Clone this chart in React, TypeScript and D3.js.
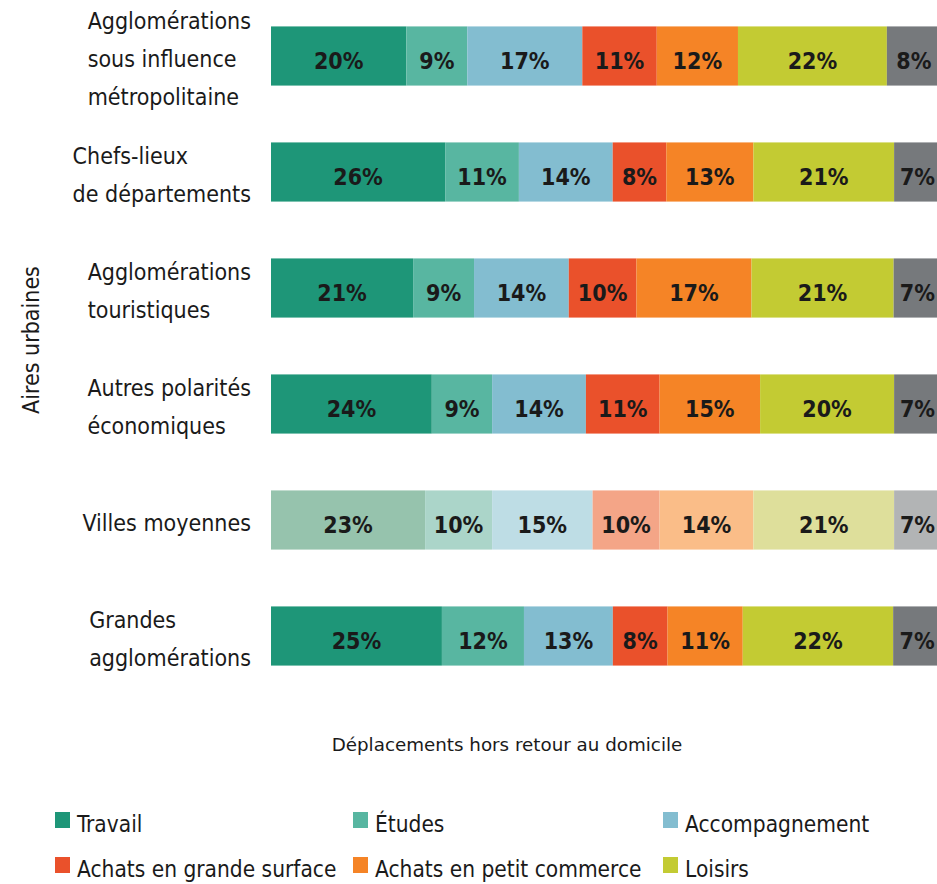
import React, { useEffect, useRef } from "react";
import * as d3 from "d3";

const W = 937;
const H = 884;

const categories = [
  "Agglomérations sous influence métropolitaine",
  "Chefs-lieux de départements",
  "Agglomérations touristiques",
  "Autres polarités économiques",
  "Villes moyennes",
  "Grandes agglomérations",
];
const categoryLines = [
  ["Agglomérations", "sous influence", "métropolitaine"],
  ["Chefs-lieux", "de départements"],
  ["Agglomérations", "touristiques"],
  ["Autres polarités", "économiques"],
  ["Villes moyennes"],
  ["Grandes", "agglomérations"],
];
const highlighted = "Villes moyennes";

const seriesNames = [
  "Travail",
  "Études",
  "Accompagnement",
  "Achats en grande surface",
  "Achats en petit commerce",
  "Loisirs",
  "Autres",
];
const travail = [20, 26, 21, 24, 23, 25];
const etudes = [9, 11, 9, 9, 10, 12];
const accompagnement = [17, 14, 14, 14, 15, 13];
const grandeSurface = [11, 8, 10, 11, 10, 8];
const petitCommerce = [12, 13, 17, 15, 14, 11];
const loisirs = [22, 21, 21, 20, 21, 22];
const autres = [8, 7, 7, 7, 7, 7];
const seriesValues = [travail, etudes, accompagnement, grandeSurface, petitCommerce, loisirs, autres];

// legend entries visible in the picture (the 7th one falls below the frame)
const legendNames = seriesNames.slice(0, 6);

const colors = ["#1e9678", "#58b6a1", "#83bdd0", "#ea512b", "#f58426", "#c3cb33", "#76797c"];
const lightColors = ["#96c3ad", "#abd5c9", "#bedde5", "#f4a587", "#fabd88", "#dedf9b", "#b2b4b5"];

const xTitle = "Déplacements hors retour au domicile";
const yTitle = "Aires urbaines";

const FONT = "'DejaVu Sans Condensed', 'DejaVu Sans', sans-serif";

export default function App() {
  const ref = useRef<SVGSVGElement>(null);

  useEffect(() => {
    const svg = d3.select(ref.current);
    svg.selectAll("*").remove();

    const rows = categories.map((c, i) => {
      const r: any = { category: c };
      seriesNames.forEach((s, j) => (r[s] = seriesValues[j][i]));
      return r;
    });
    const stacked = d3.stack().keys(seriesNames).offset(d3.stackOffsetExpand)(rows);

    const x = d3.scaleLinear().domain([0, 1]).range([271, 941]);
    const y = d3
      .scaleBand()
      .domain(categories)
      .range([-2, 694])
      .paddingInner(0.49)
      .paddingOuter(0.245);

    const g = svg.append("g");
    stacked.forEach((layer, j) => {
      const key = seriesNames[j];
      const lg = g.append("g");
      lg.selectAll("rect")
        .data(layer)
        .join("rect")
        .attr("x", (d) => x(d[0]))
        .attr("y", (d: any) => y(d.data.category)!)
        .attr("width", (d) => x(d[1]) - x(d[0]))
        .attr("height", y.bandwidth())
        .attr("fill", (d: any) => (d.data.category === highlighted ? lightColors[j] : colors[j]));
      lg.selectAll("text")
        .data(layer)
        .join("text")
        .attr("x", (d) => (x(d[0]) + x(d[1])) / 2)
        .attr("y", (d: any) => y(d.data.category)! + y.bandwidth() / 2 + 13)
        .attr("text-anchor", "middle")
        .attr("font-family", FONT)
        .attr("font-weight", "bold")
        .attr("font-size", 23)
        .attr("fill", "#1a1a1a")
        .text((d: any) => `${d.data[key]}%`);
    });

    // category labels
    categories.forEach((c, i) => {
      const lines = categoryLines[i];
      const cy = y(c)! + y.bandwidth() / 2;
      const t = svg
        .append("text")
        .attr("font-family", FONT)
        .attr("font-size", 23)
        .attr("fill", "#1a1a1a");
      const spans = lines.map((ln, k) =>
        t
          .append("tspan")
          .attr("y", cy + 11 + (k - (lines.length - 1) / 2) * 38)
          .attr("x", 0)
          .text(ln)
      );
      const maxW = d3.max(spans, (s) => (s.node() as SVGTSpanElement).getComputedTextLength()) || 0;
      spans.forEach((s) => s.attr("x", 251 - maxW));
    });

    // x title
    svg
      .append("text")
      .attr("x", 507)
      .attr("y", 751)
      .attr("text-anchor", "middle")
      .attr("font-family", "'DejaVu Sans', sans-serif")
      .attr("font-size", 18.3)
      .attr("fill", "#1a1a1a")
      .text(xTitle);

    // y title
    svg
      .append("text")
      .attr("transform", "translate(39,340) rotate(-90)")
      .attr("text-anchor", "middle")
      .attr("font-family", FONT)
      .attr("font-size", 23)
      .attr("fill", "#1a1a1a")
      .text(yTitle);

    // legend
    const colX = [55, 353, 663];
    const rowY = [832, 877];
    const leg = svg
      .append("g")
      .selectAll("g")
      .data(legendNames)
      .join("g")
      .attr("transform", (_, i) => `translate(${colX[i % 3]},${rowY[0] + Math.floor(i / 3) * (rowY[1] - rowY[0])})`);
    leg
      .append("rect")
      .attr("x", 0)
      .attr("y", -20)
      .attr("width", 15)
      .attr("height", 16)
      .attr("fill", (_, i) => colors[i]);
    leg
      .append("text")
      .attr("x", 22)
      .attr("y", 0)
      .attr("font-family", FONT)
      .attr("font-size", 22.5)
      .attr("fill", "#1a1a1a")
      .text((d) => d);
  }, []);

  return (
    <svg
      ref={ref}
      width={W}
      height={H}
      style={{ position: "absolute", left: 0, top: 0, background: "#fff", display: "block" }}
    />
  );
}
